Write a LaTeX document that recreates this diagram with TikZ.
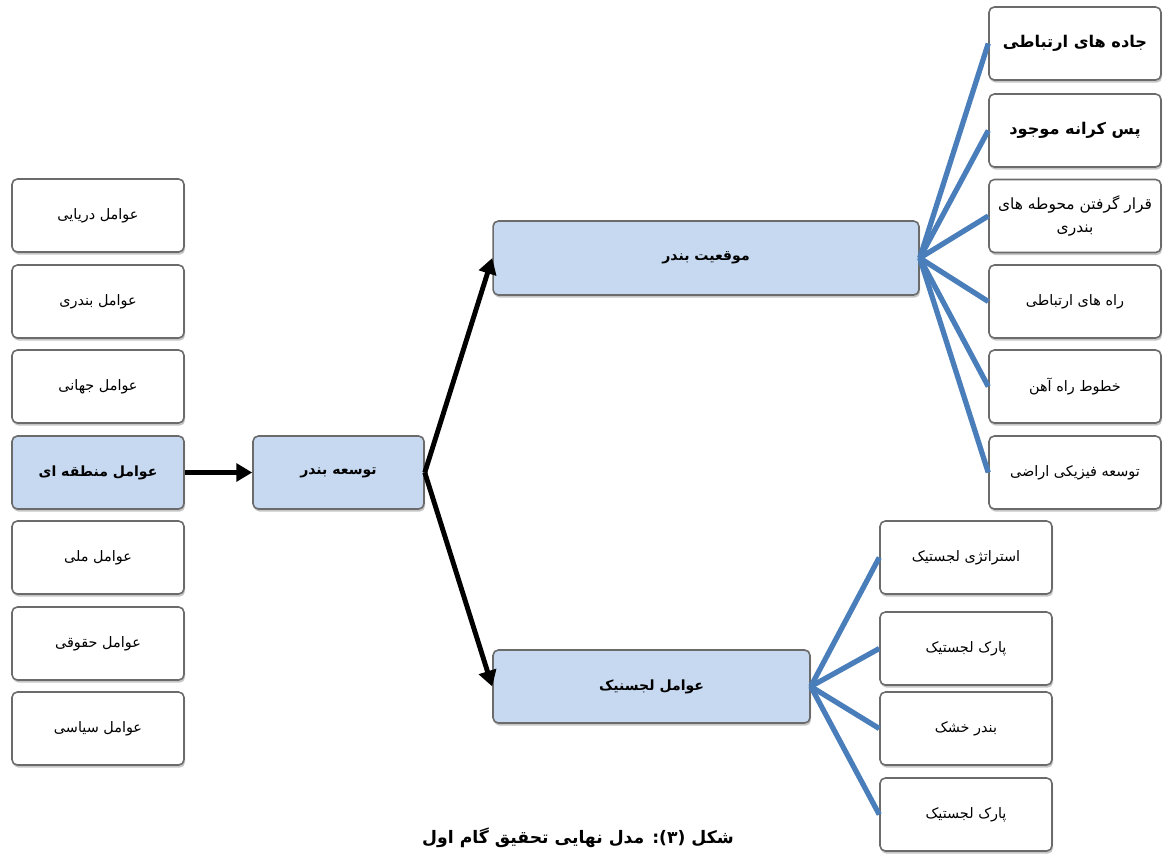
\documentclass[tikz,border=0pt]{standalone}
\usepackage{fontspec}
\newfontfamily\farsi[Script=Arabic]{DejaVu Sans}
\TeXXeTstate=1
\usepackage{tikz}
\usetikzlibrary{arrows.meta, shadows}
\definecolor{hubBlue}{HTML}{C6D9F0}
\definecolor{linkBlue}{HTML}{4A7EBB}
\definecolor{boxGray}{HTML}{6B6B6B}
\newcommand{\fa}[1]{{\farsi\beginR #1\endR}}
\tikzset{
  factor/.style={draw=boxGray, line width=0.9pt, rounded corners=3pt, fill=white,
    minimum width=3.44cm, minimum height=1.46cm, align=center,
    font=\farsi\fontsize{8.2}{12}\selectfont,
    drop shadow={opacity=0.45, shadow xshift=0.6pt, shadow yshift=-1.5pt}},
  hub/.style={factor, fill=hubBlue, font=\farsi\bfseries\fontsize{8}{11}\selectfont},
  bigfactor/.style={factor, font=\farsi\bfseries\fontsize{9.2}{12}\selectfont},
  link/.style={linkBlue, line width=3pt},
  flow/.style={-{Triangle[length=9pt,width=10pt]}, line width=2.8pt},
}

\begin{document}
\begin{tikzpicture}[x=0.02cm, y=-0.02cm]
  \useasboundingbox (0,0) rectangle (1165,853);

  \node[factor] (sea) at (98,215.5) {\fa{عوامل دریایی}};
  \node[factor] (port) at (98,301.5) {\fa{عوامل بندری}};
  \node[factor] (world) at (98,386.5) {\fa{عوامل جهانی}};
  \node[hub] (region) at (98,472.5) {\fa{عوامل منطقه ای}};
  \node[factor] (nation) at (98,557.5) {\fa{عوامل ملی}};
  \node[factor] (law) at (98,643.5) {\fa{عوامل حقوقی}};
  \node[factor] (policy) at (98,728.5) {\fa{عوامل سیاسی}};

  \node[hub, minimum width=3.42cm] (dev) at (338.5,472.5) {\fa{توسعه بندر}};
  \node[hub, minimum width=8.52cm, minimum height=1.48cm] (loc) at (706,258) {\fa{موقعیت بندر}};
  \node[hub, minimum width=6.34cm] (logi) at (651.5,686.5) {\fa{عوامل لجسنیک}};

  \node[bigfactor] (road) at (1075,43.5) {\fa{جاده های ارتباطی}};
  \node[bigfactor] (hinter) at (1075,130.5) {\fa{پس کرانه موجود}};
  \node[factor, font=\farsi\fontsize{8.8}{13}\selectfont] (yard) at (1075,216)
    {\fa{قرار گرفتن محوطه های}\\\fa{بندری}};
  \node[factor] (route) at (1075,301.5) {\fa{راه های ارتباطی}};
  \node[factor] (rail) at (1075,386.5) {\fa{خطوط راه آهن}};
  \node[factor] (land) at (1075,472.5) {\fa{توسعه فیزیکی اراضی}};

  \node[factor] (strat) at (966,557.5) {\fa{استراتژی لجستیک}};
  \node[factor] (park) at (966,648.5) {\fa{پارک لجستیک}};
  \node[factor] (dry) at (966,728.5) {\fa{بندر خشک}};
  \node[factor] (parkb) at (966,814.5) {\fa{پارک لجستیک}};

  \draw[flow] (region.east) -- (dev.west);
  \draw[flow] (dev.east) -- (loc.west);
  \draw[flow] (dev.east) -- (logi.west);

  \draw[link] (loc.east) -- (road.west);
  \draw[link] (loc.east) -- (hinter.west);
  \draw[link] (loc.east) -- (yard.west);
  \draw[link] (loc.east) -- (route.west);
  \draw[link] (loc.east) -- (rail.west);
  \draw[link] (loc.east) -- (land.west);

  \draw[link] (logi.east) -- (strat.west);
  \draw[link] (logi.east) -- (park.west);
  \draw[link] (logi.east) -- (dry.west);
  \draw[link] (logi.east) -- (parkb.west);

  \node[font=\farsi\bfseries\fontsize{9.8}{12}\selectfont] (caption) at (578,838)
    {\fa{شکل (۳): مدل نهایی تحقیق گام اول}};
\end{tikzpicture}
\end{document}
